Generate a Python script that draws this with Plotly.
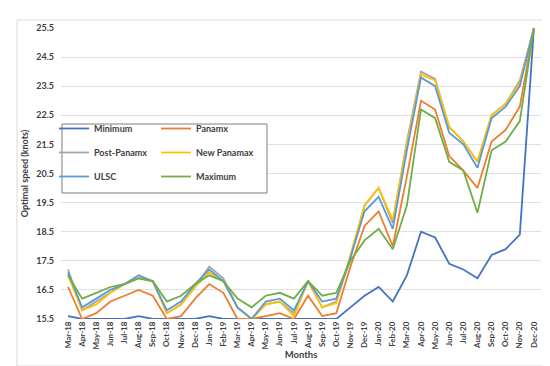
import plotly.graph_objects as go

months = ["Mar-18","Apr-18","May-18","Jun-18","Jul-18","Aug-18","Sep-18","Oct-18","Nov-18","Dec-18",
          "Jan-19","Feb-19","Mar-19","Apr-19","May-19","Jun-19","Jul-19","Aug-19","Sep-19","Oct-19",
          "Nov-19","Dec-19","Jan-20","Feb-20","Mar-20","Apr-20","May-20","Jun-20","Jul-20","Aug-20",
          "Sep-20","Oct-20","Nov-20","Dec-20"]

minimum = [15.6,15.5,15.5,15.5,15.5,15.6,15.5,15.5,15.5,15.5,15.6,15.5,15.5,15.5,15.5,15.5,15.5,15.5,15.5,15.5,
           15.9,16.3,16.6,16.1,17.0,18.5,18.3,17.4,17.2,16.9,17.7,17.9,18.4,25.5]
panamx = [16.6,15.5,15.7,16.1,16.3,16.5,16.3,15.5,15.6,16.2,16.7,16.4,15.5,15.5,15.6,15.7,15.5,16.3,15.6,15.7,
          17.3,18.7,19.2,18.0,20.4,23.0,22.7,21.1,20.6,20.0,21.6,22.0,22.8,25.5]
post_panamx = [17.2,15.8,16.1,16.4,16.7,16.9,16.8,15.7,16.0,16.6,17.3,16.9,15.9,15.5,16.0,16.1,15.7,16.8,15.9,16.1,
               17.6,19.4,20.0,18.8,21.6,24.0,23.75,22.1,21.6,20.9,22.5,22.9,23.7,25.5]
new_panamax = [17.0,15.8,16.0,16.4,16.7,16.9,16.8,15.7,16.0,16.6,17.1,16.8,15.9,15.5,16.0,16.1,15.6,16.8,15.9,16.05,
               17.7,19.4,20.0,18.9,21.5,23.9,23.7,22.1,21.6,20.9,22.5,22.9,23.6,25.5]
ulsc = [17.1,15.9,16.2,16.5,16.7,17.0,16.8,15.8,16.1,16.7,17.2,16.8,15.9,15.5,16.1,16.2,15.8,16.8,16.1,16.2,
        17.6,19.2,19.7,18.6,21.3,23.8,23.5,21.9,21.5,20.7,22.4,22.8,23.5,25.5]
maximum = [17.0,16.2,16.4,16.6,16.7,16.9,16.8,16.1,16.3,16.7,17.0,16.8,16.2,15.9,16.3,16.4,16.2,16.8,16.3,16.4,
           17.5,18.2,18.6,17.9,19.4,22.7,22.4,20.9,20.6,19.15,21.3,21.6,22.3,25.5]

y_ticks = [15.5, 16.5, 17.5, 18.5, 19.5, 20.5, 21.5, 22.5, 23.5, 24.5, 25.5]

series = [
    ("Minimum", minimum, "#4472C4", "legend"),
    ("Panamx", panamx, "#ED7D31", "legend2"),
    ("Post-Panamx", post_panamx, "#A5A5A5", "legend"),
    ("New Panamax", new_panamax, "#FFC000", "legend2"),
    ("ULSC", ulsc, "#5B9BD5", "legend"),
    ("Maximum", maximum, "#70AD47", "legend2"),
]

font_family = "Lato, 'Open Sans', sans-serif"
fig = go.Figure()
for i, (name, vals, color, lg) in enumerate(series):
    fig.add_trace(go.Scatter(
        x=months, y=vals, mode="lines", name=name,
        line=dict(color=color, width=1.8),
        legend=lg, legendgroup=name, cliponaxis=False,
    ))

W, H = 550, 366
L, R, T, B = 53, 17, 20, 55
pw, ph = W - L - R, H - T - B

def px(x):
    return (x - L) / pw

def py(y):
    return (H - B - y) / ph

leg_font = dict(family=font_family, size=9, color="#404040", weight="bold")

fig.update_layout(
    width=W, height=H,
    margin=dict(l=L, r=R, t=T, b=B),
    paper_bgcolor="white", plot_bgcolor="white",
    font=dict(family=font_family, color="#404040"),
    showlegend=True,
    legend=dict(x=px(46), y=py(106), xanchor="left", yanchor="top",
                bgcolor="rgba(0,0,0,0)", borderwidth=0, font=leg_font,
                tracegroupgap=5, itemwidth=30),
    legend2=dict(x=px(148), y=py(106), xanchor="left", yanchor="top",
                 bgcolor="rgba(0,0,0,0)", borderwidth=0, font=leg_font,
                 tracegroupgap=5, itemwidth=30),
    xaxis=dict(
        type="category", range=[-0.5, len(months) - 0.5],
        tickangle=-90, tickfont=dict(family=font_family, size=8, color="#404040", weight="bold"),
        showgrid=False, showline=False, ticks="", zeroline=False, ticklabelstandoff=0,
        title=dict(text="Months", font=dict(family=font_family, size=9.5, color="#404040", weight="bold"),
                   standoff=0),
    ),
    yaxis=dict(
        range=[15.5, 25.5], tickvals=y_ticks, ticktext=[f"{v:.1f}" for v in y_ticks],
        tickfont=dict(family=font_family, size=9, color="#404040", weight="bold"),
        showgrid=True, gridcolor="#e0e0e0", gridwidth=1, zeroline=False,
        showline=False, ticks="", ticklabelstandoff=6,
        title=dict(text="Optimal speed (knots)",
                   font=dict(family=font_family, size=9, color="#404040", weight="bold"),
                   standoff=6),
    ),
    shapes=[
        dict(type="rect", xref="paper", yref="paper",
             x0=px(54), x1=px(259), y0=py(185), y1=py(116),
             line=dict(color="#7f7f7f", width=1), fillcolor="white", layer="above"),
        dict(type="rect", xref="paper", yref="paper",
             x0=px(9), x1=px(539), y0=py(358), y1=py(12),
             line=dict(color="#d9d9d9", width=1), fillcolor="rgba(0,0,0,0)", layer="below"),
    ],
)

fig.write_html("out.html")
